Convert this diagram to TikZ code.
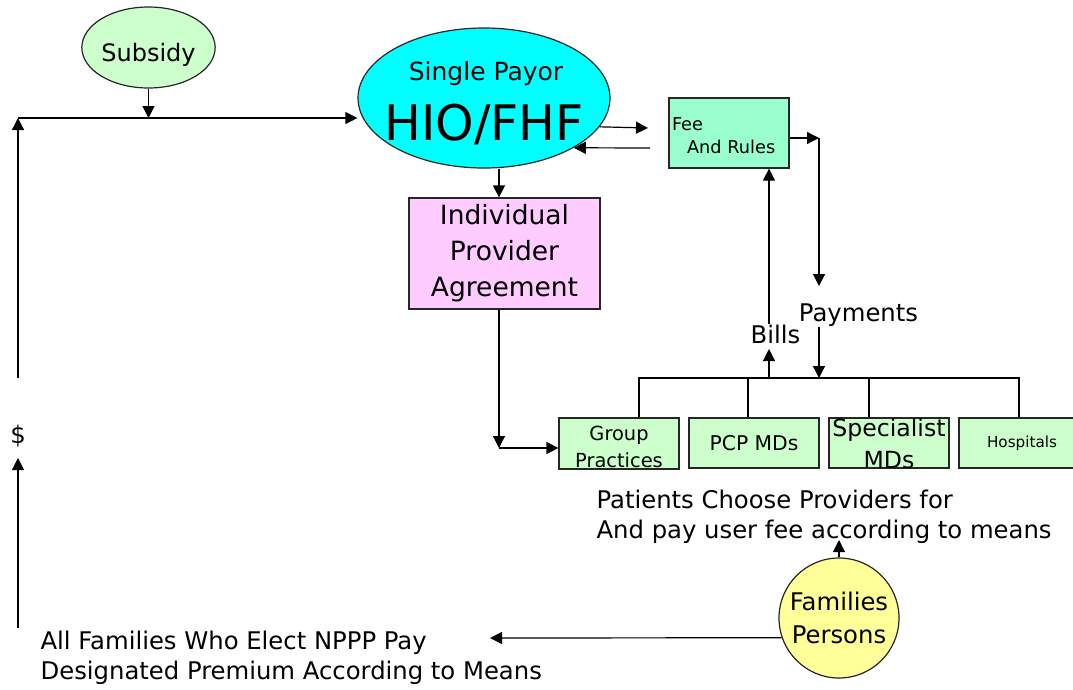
\documentclass[tikz,border=0pt]{standalone}
\usepackage{fontspec}
\setmainfont{DejaVu Sans}
\usetikzlibrary{arrows.meta,positioning,shapes.geometric}

\definecolor{subsidyfill}{HTML}{CCFFCC}
\definecolor{payorfill}{HTML}{00FFFF}
\definecolor{feefill}{HTML}{99FFCC}
\definecolor{ipafill}{HTML}{FFCCFF}
\definecolor{provfill}{HTML}{CCFFCC}
\definecolor{famfill}{HTML}{FFFF99}

\begin{document}
\begin{tikzpicture}[
    x=1pt, y=-1pt,
    line width=1.2pt,
    >={Triangle[length=12pt, width=12pt]},
    box/.style={draw=black!85, fill=#1, inner sep=0pt},
    oval/.style={ellipse, draw=black!85, fill=#1, inner sep=0pt},
    txt/.style={inner sep=0pt, font=\fontsize{24.3}{30}\selectfont}
]
    \useasboundingbox (0,0) rectangle (1073,689);

    % shapes
    \node[oval=subsidyfill, minimum width=121pt, minimum height=81pt, text height=27pt, text depth=0pt, font=\fontsize{24}{29}\selectfont] (subsidy) at (148.5,47.5) {Subsidy};
    \node[oval=payorfill, minimum width=252pt, minimum height=140pt] (hio) at (484,98) {};
    \node[txt, anchor=base, font=\fontsize{25}{30}\selectfont] (hiotop) at (486,80) {Single Payor};
    \node[txt, anchor=base, font=\fontsize{49}{59}\selectfont] (hioname) at (484,140) {HIO/FHF};
    \node[box=feefill, minimum width=120pt, minimum height=70pt, text width=114pt, align=left, font=\fontsize{17.7}{23}\selectfont] (fee) at (729,133) {\rule{0pt}{19pt}Fee\\\hspace*{15pt}And Rules};
    \node[box=ipafill, minimum width=191pt, minimum height=111pt, align=center, font=\fontsize{26.5}{36}\selectfont] (ipa) at (504.5,253.5) {Individual\\Provider\\Agreement};

    \node[box=provfill, minimum width=120pt, minimum height=51pt, text height=49pt, text depth=2pt, align=center, font=\fontsize{19.4}{27}\selectfont] (group) at (619,443.5) {Group\\Practices};
    \node[box=provfill, minimum width=130pt, minimum height=50pt, font=\fontsize{20.3}{25}\selectfont] (pcp) at (754,443) {PCP MDs};
    \node[box=provfill, minimum width=120pt, minimum height=50pt, text height=50pt, text depth=0pt, align=center, font=\fontsize{23.6}{32}\selectfont] (spec) at (889,443) {Specialist\\MDs};
    \node[box=provfill, minimum width=126pt, minimum height=50pt, font=\fontsize{15.2}{19}\selectfont] (hosp) at (1022,443) {Hospitals};

    \node[circle, draw=black!85, fill=famfill, minimum size=120pt, inner sep=0pt, align=center, font=\fontsize{24.3}{33}\selectfont] (fam) at (839,618) {Families\\Persons};

    % free text
    \node[txt, anchor=base] (dollar) at (18,443) {\$};
    \node[txt, anchor=base] (bills) at (775.5,343) {Bills};
    \node[txt, anchor=base] (pay) at (858.5,321) {Payments};
    \node[txt, anchor=north west, align=left] (choose) at (596,489.5) {Patients Choose Providers for\\And pay user fee according to means};
    \node[txt, anchor=north west, align=left] (premium) at (40,630.4) {All Families Who Elect NPPP Pay\\Designated Premium According to Means};

    % connector points
    \coordinate (top) at (18,118);
    \coordinate (upEnd) at (18,378);
    \coordinate (dolTip) at (18,458);
    \coordinate (dolBot) at (18,628);
    \coordinate (feeIn) at (648,128);
    \coordinate (feeOut) at (650,148);
    \coordinate (payTop) at (819,138);
    \coordinate (payTip) at (819,286);
    \coordinate (billsX) at (769,378);
    \coordinate (billsTip) at (769,349);
    \coordinate (busL) at (639,378);
    \coordinate (busR) at (1019,378);
    \coordinate (corner) at (499,448);
    \coordinate (famTip) at (839,540);
    \coordinate (premTip) at (490,638);

    % money to the payor
    \draw[->] (subsidy) -- (subsidy |- top);
    \draw[->] (upEnd) -- (top);
    \draw[->] (top) -- (top -| hio.west);
    \draw[->] (dolBot) -- (dolTip);

    % payor and fee schedule
    \draw[->] (hio.-14.7) -- (feeIn);
    \draw[->] (feeOut) -- (hio.-29.5);
    \draw[->] (fee.east |- payTop) -- (payTop);
    \draw[->] (payTop) -- (payTip);
    \draw[->] (pay.south -| payTop) -- (payTop |- busL);
    \draw[->] (billsX) -- (billsTip);
    \draw[->] (bills.north -| billsX) -- (fee.south -| billsX);

    % providers
    \draw (busL |- group.north) -- (busL) -- (busR) -- (busR |- hosp.north);
    \foreach \x/\n in {748/pcp, 869/spec}
        \draw (\x,378) -- (\x,378 |- \n.north);

    \draw[->] (hio.south -| corner) -- (ipa.north -| corner);
    \draw[->] (ipa.south -| corner) -- (corner);
    \draw[->] (corner) -- (group.west |- corner);

    % families
    \draw[->] (fam) -- (fam |- famTip);
    \draw[->] (fam.199.5) -- (premTip);
\end{tikzpicture}
\end{document}
